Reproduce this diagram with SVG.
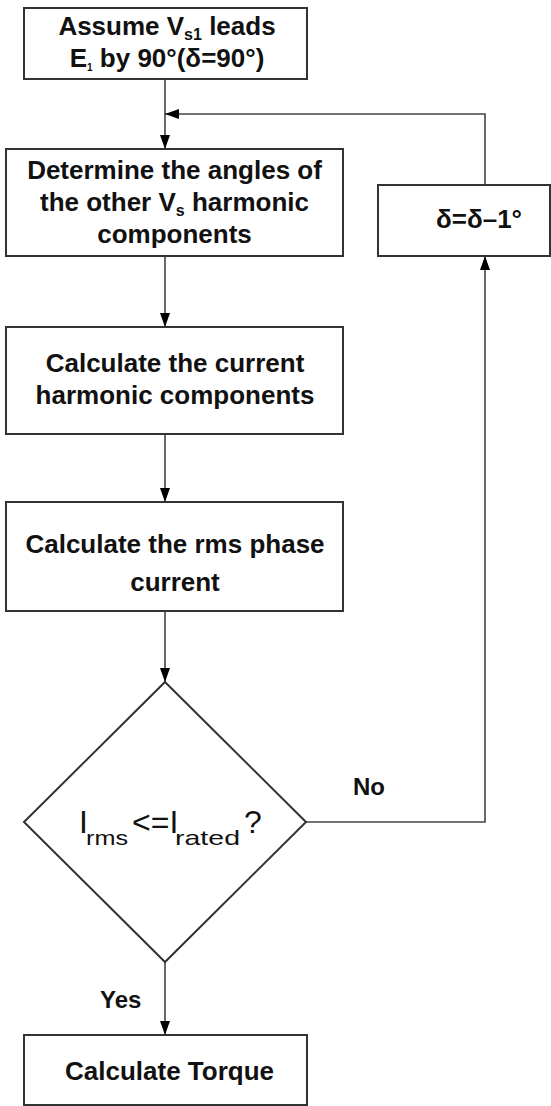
<svg xmlns="http://www.w3.org/2000/svg" width="551" height="1106" viewBox="0 0 551 1106">
<style>
.box{fill:#fff;stroke:#333;stroke-width:2}
.t{font-family:"Liberation Sans",Arial,sans-serif;font-weight:bold;font-size:26px;fill:#111;text-anchor:middle}
.r{font-family:"Liberation Sans",Arial,sans-serif;font-size:32px;fill:#111}
.s{font-size:21px}
.lbl{font-family:"Liberation Sans",Arial,sans-serif;font-weight:bold;font-size:24px;fill:#111}
.c{fill:none;stroke:#444;stroke-width:1.6}
</style>
<defs>
<marker id="ah" viewBox="0 0 14 10" refX="14" refY="5" markerWidth="14" markerHeight="10" markerUnits="userSpaceOnUse" orient="auto">
<path d="M0,0 L14,5 L0,10 z" fill="#000"/>
</marker>
</defs>
<g id="connectors">
<path class="c" d="M165,79 V149" marker-end="url(#ah)"/>
<path class="c" d="M165,256 V327" marker-end="url(#ah)"/>
<path class="c" d="M165,434 V502" marker-end="url(#ah)"/>
<path class="c" d="M165,611 V682" marker-end="url(#ah)"/>
<path class="c" d="M165,962 V1035" marker-end="url(#ah)"/>
<path class="c" d="M306,822 H485 V256" marker-end="url(#ah)"/>
<path class="c" d="M485,185 V114 H165" marker-end="url(#ah)"/>
<text class="lbl" x="353" y="795">No</text>
<text class="lbl" x="100" y="1008">Yes</text>
</g>
<g id="start">
<rect class="box" x="24" y="8" width="283" height="71"/>
<text class="t" x="167" y="35" font-size="26.5">Assume V<tspan dy="5" font-size="16">s1</tspan><tspan dy="-5"> leads</tspan></text>
<text class="t" x="167" y="67" font-size="26.5">E<tspan dy="4" font-size="10">1</tspan><tspan dy="-4"> by 90°(δ=90°)</tspan></text>
</g>
<g id="angles">
<rect class="box" x="6" y="149" width="337" height="107"/>
<text class="t" x="174.5" y="179">Determine the angles of</text>
<text class="t" x="174.5" y="211">the other V<tspan dy="5" font-size="16">s</tspan><tspan dy="-5"> harmonic</tspan></text>
<text class="t" x="174.5" y="243">components</text>
</g>
<g id="decrement">
<rect class="box" x="378" y="185" width="172" height="71"/>
<text class="t" x="479" y="228" font-size="24">δ=δ–1°</text>
</g>
<g id="currents">
<rect class="box" x="6" y="327" width="337" height="107"/>
<text class="t" x="175" y="372" font-size="27">Calculate the current</text>
<text class="t" x="175" y="404" font-size="27">harmonic components</text>
</g>
<g id="rms">
<rect class="box" x="6" y="502" width="337" height="109"/>
<text class="t" x="175" y="553" font-size="27">Calculate the rms phase</text>
<text class="t" x="175" y="591" font-size="27">current</text>
</g>
<g id="decision">
<polygon class="box" points="165,682 306,822 165,962 24,822"/>
<text class="r" y="833"><tspan x="79">I</tspan><tspan class="s" x="86" y="845" textLength="42" lengthAdjust="spacingAndGlyphs">rms</tspan><tspan x="132" y="833">&lt;=I</tspan><tspan class="s" x="175" y="845" textLength="65" lengthAdjust="spacingAndGlyphs">rated</tspan><tspan x="244" y="833">?</tspan></text>
</g>
<g id="torque">
<rect class="box" x="24" y="1035" width="283" height="70"/>
<text class="t" x="169.5" y="1080" font-size="27">Calculate Torque</text>
</g>
</svg>
